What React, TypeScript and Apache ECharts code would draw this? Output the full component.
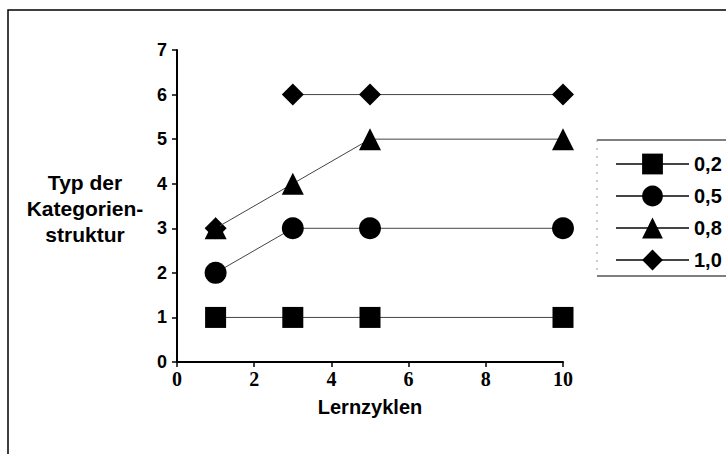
import React, { useEffect, useRef } from "react";
import * as echarts from "echarts";

const xTicks = [0, 2, 4, 6, 8, 10];
const seriesNames = ["0,2", "0,5", "0,8", "1,0"];
const seriesSymbols = ["rect", "circle", "triangle", "diamond"];
const s02: (number | string)[][] = [[1, 1], [3, 1], [5, 1], [10, 1]];
const s05: (number | string)[][] = [[1, 2], [3, 3], [5, 3], [10, 3]];
const s08: (number | string)[][] = [[1, 3], [3, 4], [5, 5], [10, 5]];
const s10: (number | string)[][] = [[1, 3], [2, "-"], [3, 6], [5, 6], [10, 6]];
const seriesData = [s02, s05, s08, s10];
const yName = "Typ der\nKategorien-\nstruktur";
const xName = "Lernzyklen";

export default function App() {
  const ref = useRef<HTMLDivElement>(null);
  useEffect(() => {
    if (!ref.current) return;
    const chart = echarts.init(ref.current, null, { renderer: "svg" });
    chart.setOption({
      animation: false,
      backgroundColor: "#fff",
      grid: { left: 177, right: 163, top: 50, bottom: 92 },
      xAxis: {
        type: "value",
        min: 0,
        max: 10,
        interval: 2,
        splitLine: { show: false },
        axisLine: { show: true, onZero: false, lineStyle: { color: "#000", width: 2 } },
        axisTick: { show: true, length: 5, lineStyle: { color: "#000", width: 1.5 } },
        axisLabel: {
          color: "#000",
          fontFamily: "Liberation Serif",
          fontWeight: "bold",
          fontSize: 20,
          margin: 7,
          formatter: (v: number) => (xTicks.includes(v) ? String(v) : ""),
        },
      },
      yAxis: {
        type: "value",
        min: 0,
        max: 7,
        interval: 1,
        splitLine: { show: false },
        axisLine: { show: true, onZero: false, lineStyle: { color: "#000", width: 2 } },
        axisTick: { show: true, length: 5, lineStyle: { color: "#000", width: 1.5 } },
        axisLabel: {
          color: "#000",
          fontFamily: "Liberation Sans",
          fontWeight: "bold",
          fontSize: 18,
          margin: 10,
        },
      },
      legend: {
        orient: "vertical",
        left: 610,
        top: 146,
        itemWidth: 73,
        itemHeight: 26,
        itemGap: 6,
        data: seriesNames,
        textStyle: {
          color: "#000",
          fontFamily: "Liberation Sans",
          fontWeight: "bold",
          fontSize: 20,
          lineHeight: 26,
        },
      },
      graphic: [
        {
          type: "rect",
          shape: { x: 8, y: 10, width: 800, height: 600 },
          style: { fill: "none", stroke: "#000", lineWidth: 1.5 },
          silent: true,
        },
        {
          type: "line",
          shape: { x1: 597, y1: 140, x2: 726, y2: 140 },
          style: { stroke: "#000", lineWidth: 1 },
        },
        {
          type: "line",
          shape: { x1: 597, y1: 276, x2: 726, y2: 276 },
          style: { stroke: "#000", lineWidth: 1 },
        },
        {
          type: "line",
          shape: { x1: 597, y1: 140, x2: 597, y2: 276 },
          style: { stroke: "#999", lineWidth: 1, lineDash: [2, 6] },
        },
        {
          type: "text",
          x: 85,
          y: 208,
          style: {
            text: yName,
            fill: "#000",
            font: "bold 21px 'Liberation Sans'",
            align: "center",
            verticalAlign: "middle",
            lineHeight: 26,
          },
        },
        {
          type: "text",
          x: 370,
          y: 407,
          style: {
            text: xName,
            fill: "#000",
            font: "bold 20px 'Liberation Sans'",
            align: "center",
            verticalAlign: "middle",
          },
        },
      ],
      series: seriesNames.map((name, i) => ({
        name,
        type: "line",
        data: seriesData[i],
        connectNulls: false,
        symbol: seriesSymbols[i],
        symbolSize: seriesSymbols[i] === "rect" ? 21 : 22,
        itemStyle: { color: "#000", borderWidth: 0 },
        lineStyle: { color: "#444", width: 1 },
        z: 2 + (3 - i),
      })),
    });
    return () => chart.dispose();
  }, []);
  return (
    <div
      ref={ref}
      style={{ position: "fixed", left: 0, top: 0, width: 726, height: 454 }}
    />
  );
}
